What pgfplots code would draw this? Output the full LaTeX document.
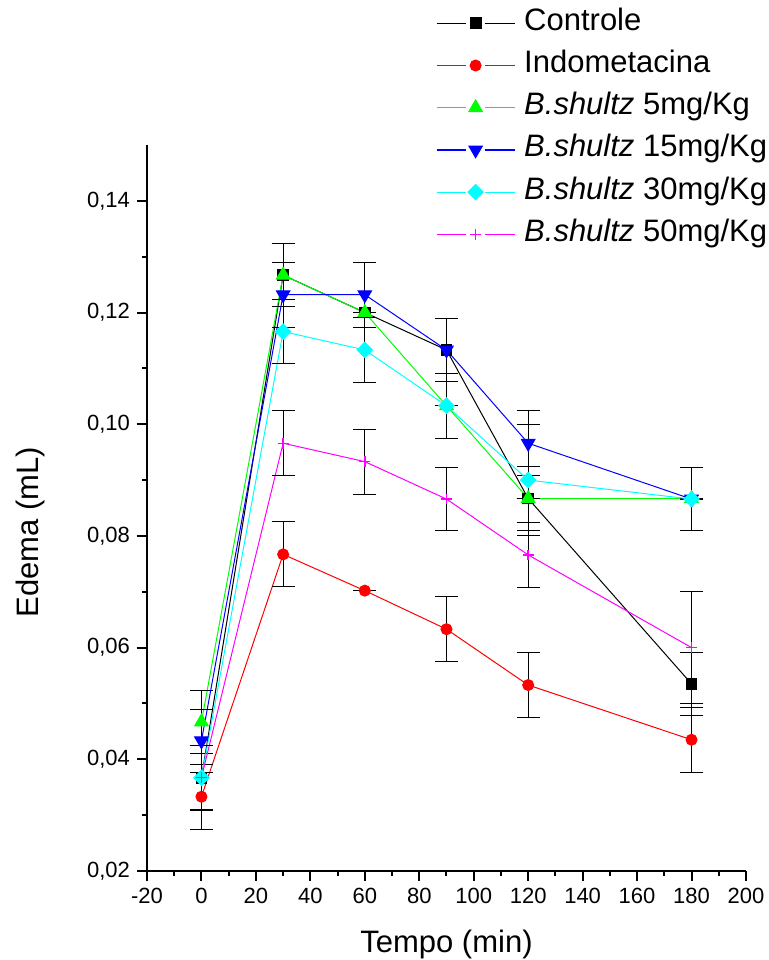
\documentclass[border=0pt]{standalone}
\usepackage{pgfplots}
\pgfplotsset{compat=1.18}
\usepackage{fontspec}
\setmainfont{Liberation Sans}
\definecolor{oblack}{RGB}{0,0,0}
\definecolor{ored}{RGB}{255,0,0}
\definecolor{ogreen}{RGB}{0,255,0}
\definecolor{oblue}{RGB}{0,0,255}
\definecolor{ocyan}{RGB}{0,255,255}
\definecolor{omagenta}{RGB}{255,0,255}
\begin{document}
\begin{tikzpicture}
\path[use as bounding box] (-73.5bp,-44.5bp) rectangle (311bp,435.5bp);
\begin{axis}[
  at={(0,0)}, anchor=south west,
  scale only axis, width=299.5bp, height=363bp,
  xmin=-20, xmax=200, ymin=0.02, ymax=0.15,
  axis x line*=bottom, axis y line*=left,
  axis line style={line width=1bp, black},
  xtick={-20,0,20,40,60,80,100,120,140,160,180,200},
  xticklabels={-20,0,20,40,60,80,100,120,140,160,180,200},
  ytick={0.02,0.04,0.06,0.08,0.10,0.12,0.14},
  yticklabels={{0,02},{0,04},{0,06},{0,08},{0,10},{0,12},{0,14}},
  minor x tick num=1, minor y tick num=1,
  tick align=outside,
  major tick length=5bp, minor tick length=2.5bp,
  every tick/.style={line width=1bp, black},
  ticklabel style={font=\fontsize{11bp}{13bp}\selectfont},
  xlabel={Tempo (min)}, ylabel={Edema (mL)},
  label style={font=\fontsize{15.5bp}{18bp}\selectfont},
  xlabel style={at={(axis description cs:0.5,-0.1006)}, anchor=center},
  ylabel style={at={(axis description cs:-0.195,0.467)}, anchor=center},
  clip=false,
  legend image code/.code={
    \draw[#1, mark=none, line width=0.6bp] plot coordinates {(0bp,0bp) (14.5bp,0bp)};
    \draw[#1, mark=none, line width=0.6bp] plot coordinates {(24bp,0bp) (39bp,0bp)};
    \draw[#1] plot coordinates {(19.5bp,0bp)};
  },
  legend style={at={(axis description cs:0.4825,1.0223)}, anchor=west,
    draw=white, inner sep=0pt, outer sep=0pt,
    font=\fontsize{15.5bp}{18bp}\selectfont,
    row sep=7.1bp, column sep=4.5bp,
    nodes={inner sep=0pt, text height=10.5bp, text depth=3.5bp}},
  legend cell align=left,
  every axis plot/.append style={line width=0.5bp},
  error bars/y dir=both, error bars/y explicit,
  error bars/error bar style={oblack, line width=0.5bp, solid},
  error bars/error mark options={rotate=90, oblack, mark size=5.75bp, line width=0.5bp},
]
% Controle
\addplot[color=oblack, mark=square*, mark size=2.7bp, mark options={solid, fill=oblack}]
 table[x=x, y=y, y error=e] {
x y e
0 0.0367 0.0057
30 0.1267 0.0057
60 0.1200 0
90 0.1133 0.0057
120 0.0867 0.0057
180 0.0535 0.0057
};
\addlegendentry{Controle}
% Indometacina
\addplot[color=ored, mark=*, mark size=2.75bp, mark options={solid, fill=ored}]
 table[x=x, y=y, y error=e] {
x y e
0 0.0333 0.0058
30 0.0767 0.0058
60 0.0702 0
90 0.0633 0.0058
120 0.0533 0.0058
180 0.0435 0.0058
};
\addlegendentry{Indometacina}
% 5 mg
\addplot[color=ogreen, mark=triangle*, mark size=3.9bp, mark options={solid, fill=ogreen}]
 table[x=x, y=y, y error=e] {
x y e
0 0.0467 0.0057
30 0.1267 0.0057
60 0.1200 0
90 0.1033 0
120 0.0867 0
180 0.0867 0
};
\addlegendentry{\textit{B.shultz} 5mg/Kg}
% 15 mg
\addplot[color=oblue, mark=triangle*, mark size=3.9bp, mark options={solid, fill=oblue, rotate=180}]
 table[x=x, y=y, y error=e] {
x y e
0 0.0433 0.0057
30 0.1232 0.0058
60 0.1232 0.0058
90 0.1133 0.0057
120 0.0966 0.0058
180 0.0866 0
};
\addlegendentry{\textit{B.shultz} 15mg/Kg}
% 30 mg
\addplot[color=ocyan, mark=square*, mark size=2.7bp, mark options={solid, fill=ocyan, rotate=45}]
 table[x=x, y=y, y error=e] {
x y e
0 0.0367 0.0058
30 0.1166 0.0058
60 0.1133 0.0058
90 0.1033 0.0058
120 0.0900 0.0099
180 0.0866 0.0057
};
\addlegendentry{\textit{B.shultz} 30mg/Kg}
% 50 mg
\addplot[color=omagenta, mark=+, mark size=2.7bp, mark options={solid, line width=0.7bp}]
 table[x=x, y=y, y error=e] {
x y e
0 0.0367 0.0058
30 0.0966 0.0058
60 0.0933 0.0058
90 0.0866 0.0057
120 0.0766 0.0058
180 0.0600 0.0100
};
\addlegendentry{\textit{B.shultz} 50mg/Kg}
\end{axis}
\end{tikzpicture}
\end{document}
